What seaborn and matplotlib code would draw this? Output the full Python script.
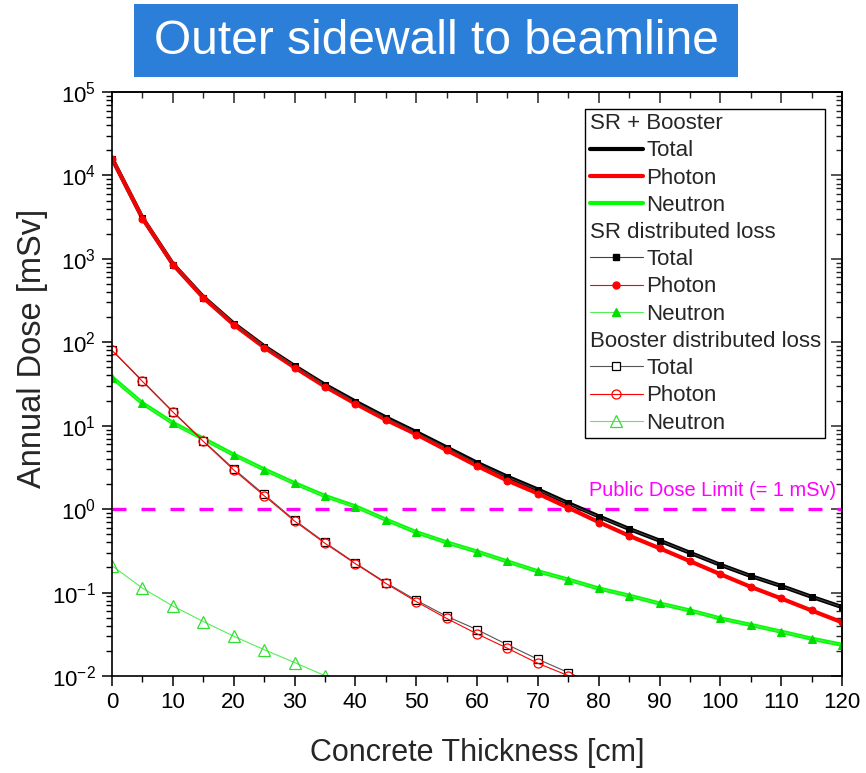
import numpy as np
import matplotlib
matplotlib.use('Agg')
import matplotlib.pyplot as plt
import seaborn as sns
from matplotlib.lines import Line2D
from matplotlib.patches import Rectangle

# ---------------- data ----------------
thickness = [0, 5, 10, 15, 20, 25, 30, 35, 40, 45, 50, 55, 60, 65, 70, 75, 80,
             85, 90, 95, 100, 105, 110, 115, 120]

# SR + Booster (thick lines)
comb_total = [16000, 3100, 870, 350, 168, 90, 52, 31, 19.5, 12.6, 8.4, 5.5, 3.6,
              2.45, 1.72, 1.18, 0.82, 0.58, 0.42, 0.30, 0.215, 0.158, 0.12, 0.089, 0.067]
comb_photon = [15960, 3080, 860, 343, 163, 87, 50, 29.5, 18.4, 11.8, 7.9, 5.1, 3.3,
               2.2, 1.54, 1.04, 0.70, 0.48, 0.34, 0.238, 0.166, 0.117, 0.085, 0.061, 0.044]
comb_neutron = [38, 18.6, 10.8, 7.0, 4.5, 3.0, 2.05, 1.44, 1.08, 0.75, 0.53, 0.40, 0.31,
                0.236, 0.18, 0.143, 0.112, 0.092, 0.074, 0.061, 0.049, 0.041, 0.034, 0.028, 0.0237]

# SR distributed loss
sr_total = [15920, 3065, 855, 343, 165, 88.5, 51.3, 30.6, 19.3, 12.5, 8.3, 5.45, 3.56,
            2.43, 1.70, 1.17, 0.81, 0.58, 0.42, 0.30, 0.215, 0.158, 0.12, 0.089, 0.067]
sr_photon = [15880, 3046, 845, 336, 160, 85.5, 49.3, 29.1, 18.2, 11.7, 7.82, 5.05, 3.27,
             2.18, 1.53, 1.03, 0.69, 0.48, 0.34, 0.238, 0.166, 0.117, 0.085, 0.061, 0.044]
sr_neutron = [37.8, 18.5, 10.7, 6.95, 4.47, 2.98, 2.04, 1.43, 1.07, 0.75, 0.53, 0.40, 0.31,
              0.236, 0.18, 0.143, 0.112, 0.092, 0.074, 0.061, 0.049, 0.041, 0.034, 0.028, 0.0237]

# Booster distributed loss
thickness_b = thickness[:17]
bo_total = [81, 34.5, 14.8, 6.6, 3.05, 1.5, 0.74, 0.40, 0.226, 0.132, 0.081, 0.052,
            0.036, 0.0237, 0.0159, 0.011, 0.0077]
bo_photon = [80, 34, 14.6, 6.5, 2.95, 1.45, 0.72, 0.39, 0.222, 0.129, 0.078, 0.049,
             0.032, 0.0215, 0.0142, 0.0101, 0.0069]
thickness_bn = thickness[:9]
bo_neutron = [0.21, 0.113, 0.069, 0.045, 0.030, 0.0207, 0.0145, 0.0101, 0.0072]

dose_limit = 1.0

# ---------------- style ----------------
sns.set_theme(style='ticks')
plt.rcParams['font.family'] = ['Liberation Sans', 'DejaVu Sans']
plt.rcParams['mathtext.fontset'] = 'custom'
plt.rcParams['mathtext.rm'] = 'Liberation Sans'
plt.rcParams['mathtext.it'] = 'Liberation Sans:italic'
plt.rcParams['mathtext.bf'] = 'Liberation Sans:bold'
plt.rcParams['mathtext.default'] = 'regular'

BLACK = '#000000'
RED = '#ff0000'
GREEN = '#00ff00'
LGREEN = '#55ee55'
MAG = '#ff00ff'

fig = plt.figure(figsize=(8.66, 7.73), dpi=100)
fig.patch.set_facecolor('white')
ax = fig.add_axes([112 / 866, 1 - 676 / 773, 730 / 866, 584 / 773])
ax.set_facecolor('white')

# title box
fig.patches.append(Rectangle((134 / 866, 1 - 77 / 773), 604 / 866, 73 / 773,
                             transform=fig.transFigure, facecolor='#2b7fd9',
                             edgecolor='none', zorder=0))
fig.text(436 / 866, 1 - 41 / 773, 'Outer sidewall to beamline', color='white',
         fontsize=34.5, ha='center', va='center')

# thick combined lines
sns.lineplot(x=thickness, y=comb_total, ax=ax, color=BLACK, lw=3.0, errorbar=None)
sns.lineplot(x=thickness, y=comb_photon, ax=ax, color=RED, lw=3.0, errorbar=None)
sns.lineplot(x=thickness, y=comb_neutron, ax=ax, color=GREEN, lw=3.0, errorbar=None)

# SR distributed loss
sr_styles = [
    dict(color='#404040', marker='s', markersize=4.5, markerfacecolor=BLACK, markeredgecolor=BLACK),
    dict(color=RED, marker='o', markersize=5, markerfacecolor=RED, markeredgecolor=RED),
    dict(color=LGREEN, marker='^', markersize=6, markerfacecolor='#00dd00', markeredgecolor='#00dd00'),
]
for yv, st in zip([sr_total, sr_photon, sr_neutron], sr_styles):
    sns.lineplot(x=thickness, y=yv, ax=ax, lw=0.8, errorbar=None, **st)

# Booster distributed loss
bo_styles = [
    dict(color='#555555', marker='s', markersize=6, markerfacecolor='white', markeredgecolor=BLACK, markeredgewidth=0.9),
    dict(color=RED, marker='o', markersize=6.5, markerfacecolor='none', markeredgecolor=RED, markeredgewidth=0.9),
    dict(color=LGREEN, marker='^', markersize=8, markerfacecolor='none', markeredgecolor='#33dd33', markeredgewidth=0.9),
]
for xv, yv, st in zip([thickness_b, thickness_b, thickness_bn],
                      [bo_total, bo_photon, bo_neutron], bo_styles):
    sns.lineplot(x=xv, y=yv, ax=ax, lw=0.8, errorbar=None, **st)

# public dose limit
ax.axhline(dose_limit, color=MAG, lw=2.4, dashes=(4.2, 4.5), zorder=1)
ax.text(119, dose_limit * 1.28, 'Public Dose Limit (= 1 mSv)', color=MAG,
        fontsize=14.4, ha='right', va='bottom')

# axes
ax.set_yscale('log')
ax.set_xlim(0, 120)
ax.set_ylim(1e-2, 1e5)
ax.set_xticks(np.arange(0, 121, 10))
ax.set_xticks(np.arange(0, 121, 5), minor=True)
ax.set_xlabel('Concrete Thickness [cm]', fontsize=22, labelpad=18)
ax.set_ylabel('Annual Dose [mSv]', fontsize=23.5)
ax.yaxis.set_label_coords(-0.088, 0.5616)
for s in ax.spines.values():
    s.set_linewidth(1.2)
    s.set_color('black')
ax.tick_params(which='major', direction='out', length=7.5, width=1.1, labelsize=16,
               colors='black', pad=4)
ax.tick_params(which='minor', direction='out', length=4, width=1.0, colors='black')
ax.tick_params(top=False, right=False, which='both')

secx = ax.secondary_xaxis('top')
secx.set_xticks(np.arange(0, 121, 10))
secx.set_xticks(np.arange(0, 121, 5), minor=True)
secx.tick_params(which='major', direction='in', length=8, width=1.1, labeltop=False)
secx.tick_params(which='minor', direction='in', length=4, width=1.0)
secy = ax.secondary_yaxis('right')
secy.tick_params(which='major', direction='in', length=8, width=1.1, labelright=False)
secy.tick_params(which='minor', direction='in', length=4, width=1.0)

# legend
blank = Line2D([], [], linestyle='none')
handles = [
    blank,
    Line2D([], [], color=BLACK, lw=3.0),
    Line2D([], [], color=RED, lw=3.0),
    Line2D([], [], color=GREEN, lw=3.0),
    blank,
    Line2D([], [], lw=0.8, **sr_styles[0]),
    Line2D([], [], lw=0.8, **sr_styles[1]),
    Line2D([], [], lw=0.8, **sr_styles[2]),
    blank,
    Line2D([], [], lw=0.8, **bo_styles[0]),
    Line2D([], [], lw=0.8, **bo_styles[1]),
    Line2D([], [], lw=0.8, **bo_styles[2]),
]
labels = ['SR + Booster', 'Total', 'Photon', 'Neutron',
          'SR distributed loss', 'Total', 'Photon', 'Neutron',
          'Booster distributed loss', 'Total', 'Photon', 'Neutron']
leg = ax.legend(handles, labels, loc='upper right', fontsize=16, frameon=True,
                fancybox=False, edgecolor='black', framealpha=1, borderpad=0.2,
                labelspacing=0.28, handlelength=2.4, handletextpad=0.15,
                borderaxespad=0.75, numpoints=1)
leg.get_frame().set_linewidth(1.0)
header_idx = {0, 4, 8}
hpacks = []
for col in leg._legend_handle_box.get_children():
    for hp in col.get_children():
        hpacks.append(hp)
for i, hp in enumerate(hpacks):
    if i in header_idx:
        da = hp.get_children()[0]
        da.set_width(0)
        hp.sep = 0

fig.savefig('out.png', dpi=100, facecolor='white')
